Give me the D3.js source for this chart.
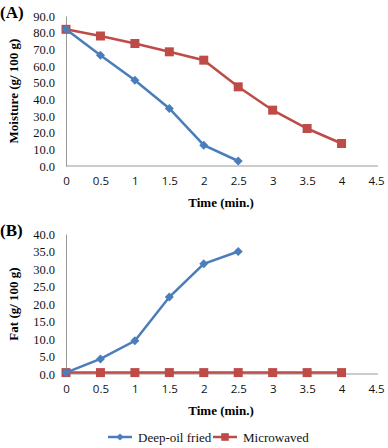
<!DOCTYPE html>
<html>
<head>
<script src="https://d3js.org/d3.v7.min.js"></script>
<style>
  body { margin: 0; background: #fff; }
</style>
</head>
<body>
<svg width="388" height="448"></svg>
<script>
// data
var times = [0, 0.5, 1, 1.5, 2, 2.5, 3, 3.5, 4];
var friedMoisture = [82, 66.5, 51.5, 34.5, 12.5, 3];
var microMoisture = [82, 78, 73.5, 68.5, 63.5, 47.5, 33.5, 22.5, 13.5];
var friedFat = [0.4, 4.3, 9.5, 22, 31.5, 35];
var microFat = [0.4, 0.4, 0.4, 0.4, 0.4, 0.4, 0.4, 0.4, 0.4];
var xTicks = [0, 0.5, 1, 1.5, 2, 2.5, 3, 3.5, 4, 4.5];
var moistureTicks = [0, 10, 20, 30, 40, 50, 60, 70, 80, 90];
var fatTicks = [0, 5, 10, 15, 20, 25, 30, 35, 40];

var blue = "#4a7ebb", red = "#be4b48";
var serif = "'Liberation Serif', 'Times New Roman', serif";
var svg = d3.select("svg");

// diamond = square turned 45 degrees, like the spreadsheet marker
function marker(kind, s) {
  return kind === "diamond" ? "M0," + (-s) + "L" + s + ",0L0," + s + "L" + (-s) + ",0Z"
                            : "M" + (-s) + "," + (-s) + "H" + s + "V" + s + "H" + (-s) + "Z";
}

function panel(opt) {
  var x = d3.scaleLinear().domain([0, 4.5]).range([66, 376]);
  var y = d3.scaleLinear().domain([0, opt.ymax]).range([opt.bottom, opt.top]);
  var g = svg.append("g");

  // y axis
  var ya = g.append("g").attr("transform", "translate(66,0)")
    .call(d3.axisLeft(y).tickValues(opt.ticks).tickSize(0).tickPadding(11).tickFormat(d3.format(".1f")));
  ya.select(".domain").attr("stroke", "#999").attr("stroke-width", 1);
  ya.selectAll("text").style("font-family", serif).style("font-size", "12.5px").attr("fill", "#111");

  // x axis
  var xa = g.append("g").attr("transform", "translate(0," + opt.bottom + ")")
    .call(d3.axisBottom(x).tickValues(xTicks).tickSize(0).tickPadding(11).tickFormat(d3.format("~g")));
  xa.select(".domain").attr("stroke", "#999").attr("stroke-width", 1).attr("d", "M66,0H378");
  xa.selectAll("text").style("font-family", "'Open Sans', sans-serif").style("font-size", "11.5px").attr("fill", "#111");

  g.append("text").style("font-family", serif).attr("x", 0).attr("y", opt.top + 2)
    .style("font-size", "17px").style("font-weight", "bold").text(opt.tag);
  g.append("text").style("font-family", serif)
    .attr("transform", "translate(18," + ((opt.top + opt.bottom) / 2) + ") rotate(-90)")
    .attr("text-anchor", "middle").style("font-size", "13px").style("font-weight", "bold").text(opt.ylabel);
  g.append("text").style("font-family", serif).attr("x", 221).attr("y", opt.bottom + 41)
    .attr("text-anchor", "middle").style("font-size", "13px").style("font-weight", "bold").text("Time (min.)");

  var line = d3.line().x(function (d, i) { return x(times[i]); }).y(function (d) { return y(d); });
  [[opt.micro, red, "square", 4.5], [opt.fried, blue, "diamond", 4.5]].forEach(function (s) {
    g.append("path").datum(s[0]).attr("d", line).attr("fill", "none").attr("stroke", s[1]).attr("stroke-width", 2.5);
    g.selectAll(null).data(s[0]).enter().append("path")
      .attr("d", marker(s[2], s[3]))
      .attr("transform", function (d, i) { return "translate(" + x(times[i]) + "," + y(d) + ")"; })
      .attr("fill", s[1]);
  });
}

panel({ tag: "(A)", top: 16, bottom: 166, ymax: 90, ticks: moistureTicks, ylabel: "Moisture (g/ 100 g)", fried: friedMoisture, micro: microMoisture });
panel({ tag: "(B)", top: 234, bottom: 374, ymax: 40, ticks: fatTicks, ylabel: "Fat (g/ 100 g)", fried: friedFat, micro: microFat });

// legend
var legend = [["Deep-oil fried", blue, "diamond", 3.5, 108], ["Microwaved", red, "square", 3.8, 213]];
legend.forEach(function (l) {
  var lg = svg.append("g").attr("transform", "translate(" + l[4] + ",437)");
  lg.append("line").attr("x1", 0).attr("x2", 24).attr("stroke", l[1]).attr("stroke-width", 2.5);
  lg.append("path").attr("d", marker(l[2], l[3])).attr("transform", "translate(12,0)").attr("fill", l[1]);
  lg.append("text").style("font-family", serif).attr("x", 30).attr("y", 4.5).style("font-size", "13px").attr("fill", "#111").text(l[0]);
});
</script>
</body>
</html>
